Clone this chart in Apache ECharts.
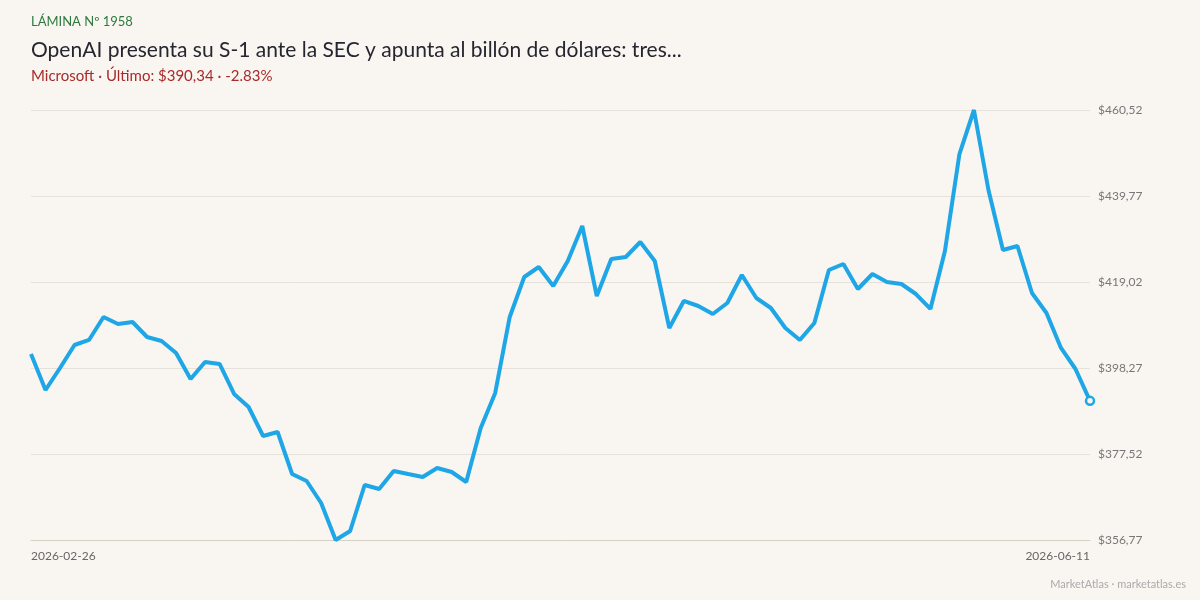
<!DOCTYPE html>
<html>
<head>
<meta charset="utf-8">
<script src="https://cdn.jsdelivr.net/npm/echarts@6/dist/echarts.min.js"></script>
<style>
  html, body { margin: 0; padding: 0; background: #f9f6f1; }
  #chart { width: 1200px; height: 600px; }
</style>
</head>
<body>
<div id="chart"></div>
<script>
// sesiones bursátiles (sin Viernes Santo ni Memorial Day)
var dates = [
  '2026-02-26', '2026-02-27',
  '2026-03-02', '2026-03-03', '2026-03-04', '2026-03-05', '2026-03-06',
  '2026-03-09', '2026-03-10', '2026-03-11', '2026-03-12', '2026-03-13',
  '2026-03-16', '2026-03-17', '2026-03-18', '2026-03-19', '2026-03-20',
  '2026-03-23', '2026-03-24', '2026-03-25', '2026-03-26', '2026-03-27',
  '2026-03-30', '2026-03-31', '2026-04-01', '2026-04-02',
  '2026-04-06', '2026-04-07', '2026-04-08', '2026-04-09', '2026-04-10',
  '2026-04-13', '2026-04-14', '2026-04-15', '2026-04-16', '2026-04-17',
  '2026-04-20', '2026-04-21', '2026-04-22', '2026-04-23', '2026-04-24',
  '2026-04-27', '2026-04-28', '2026-04-29', '2026-04-30', '2026-05-01',
  '2026-05-04', '2026-05-05', '2026-05-06', '2026-05-07', '2026-05-08',
  '2026-05-11', '2026-05-12', '2026-05-13', '2026-05-14', '2026-05-15',
  '2026-05-18', '2026-05-19', '2026-05-20', '2026-05-21', '2026-05-22',
  '2026-05-26', '2026-05-27', '2026-05-28', '2026-05-29',
  '2026-06-01', '2026-06-02', '2026-06-03', '2026-06-04', '2026-06-05',
  '2026-06-08', '2026-06-09', '2026-06-10', '2026-06-11'
];

// cierre de Microsoft (USD)
var closes = [
  401.65, 392.96, 398.27, 403.82, 405.03, 410.58, 408.89, 409.37, 405.75, 404.78,
  401.89, 395.62, 399.72, 399.24, 392.00, 388.86, 381.86, 382.83, 372.69, 371.01,
  365.70, 356.77, 358.94, 370.04, 369.07, 373.42, 372.69, 371.97, 374.14, 373.18,
  370.76, 383.79, 392.24, 410.58, 420.23, 422.64, 418.05, 424.09, 432.53, 415.64,
  424.57, 425.05, 428.67, 424.09, 407.92, 414.44, 413.23, 411.30, 413.95, 420.71,
  415.16, 412.75, 407.92, 405.03, 409.13, 421.92, 423.36, 417.33, 420.95, 419.02,
  418.54, 416.12, 412.51, 426.50, 449.90, 460.52, 441.22, 426.74, 427.71, 416.37,
  411.54, 403.10, 398.03, 390.34
];

var yMin = 356.77;
var yMax = 460.52;
var yStep = 20.75;

var chart = echarts.init(document.getElementById('chart'));

var lastIdx = closes.length - 1;
var seriesData = closes.map(function (v, i) {
  if (i === lastIdx) {
    return {
      value: v,
      symbol: 'circle',
      symbolSize: 8,
      itemStyle: { color: '#f9f6f1', borderColor: '#1ea6e6', borderWidth: 2.5 }
    };
  }
  return v;
});

chart.setOption({
  backgroundColor: '#f9f6f1',
  animation: false,
  textStyle: { fontFamily: 'Lato' },
  title: [
    {
      text: 'LÁMINA Nº 1958',
      left: 31, top: 15, padding: 0,
      textStyle: { fontFamily: 'Lato', fontSize: 13, fontWeight: 'normal', color: '#2d7a3e' }
    },
    {
      text: 'OpenAI presenta su S-1 ante la SEC y apunta al billón de dólares: tres...',
      left: 31, top: 40, padding: 0,
      textStyle: { fontFamily: 'Lato', fontSize: 21, fontWeight: 'normal', color: '#262630' }
    },
    {
      text: 'Microsoft · Último: $390,34 · -2.83%',
      left: 31, top: 69, padding: 0,
      textStyle: { fontFamily: 'Lato', fontSize: 15, fontWeight: 'normal', color: '#a82a2a' }
    },
    {
      text: 'MarketAtlas · marketatlas.es',
      right: 14, top: 579, padding: 0,
      textStyle: { fontFamily: 'Lato', fontSize: 11, fontWeight: 'normal', color: '#aaaaaa' }
    }
  ],
  grid: { left: 31, right: 110, top: 110, bottom: 60 },
  xAxis: {
    type: 'category',
    data: dates,
    boundaryGap: false,
    axisLine: { show: true, lineStyle: { color: '#d6d0c6', width: 1 } },
    axisTick: { show: false },
    splitLine: { show: false },
    axisLabel: {
      color: '#666666',
      fontFamily: 'Lato',
      fontSize: 12,
      margin: 10,
      alignMinLabel: 'left',
      alignMaxLabel: 'right',
      interval: function (i) { return i === 0 || i === lastIdx; }
    }
  },
  yAxis: {
    type: 'value',
    position: 'right',
    min: yMin,
    max: yMax,
    interval: yStep,
    axisLine: { show: false },
    axisTick: { show: false },
    splitLine: { lineStyle: { color: '#e6e1d9', width: 1 } },
    axisLabel: {
      color: '#777777',
      fontFamily: 'Lato',
      fontSize: 12,
      margin: 8,
      formatter: function (v) { return '$' + v.toFixed(2).replace('.', ','); }
    }
  },
  series: [{
    type: 'line',
    data: seriesData,
    showSymbol: true,
    symbol: 'none',
    lineStyle: { color: '#1ea6e6', width: 4 },
    itemStyle: { color: '#1ea6e6' }
  }]
});
</script>
</body>
</html>
